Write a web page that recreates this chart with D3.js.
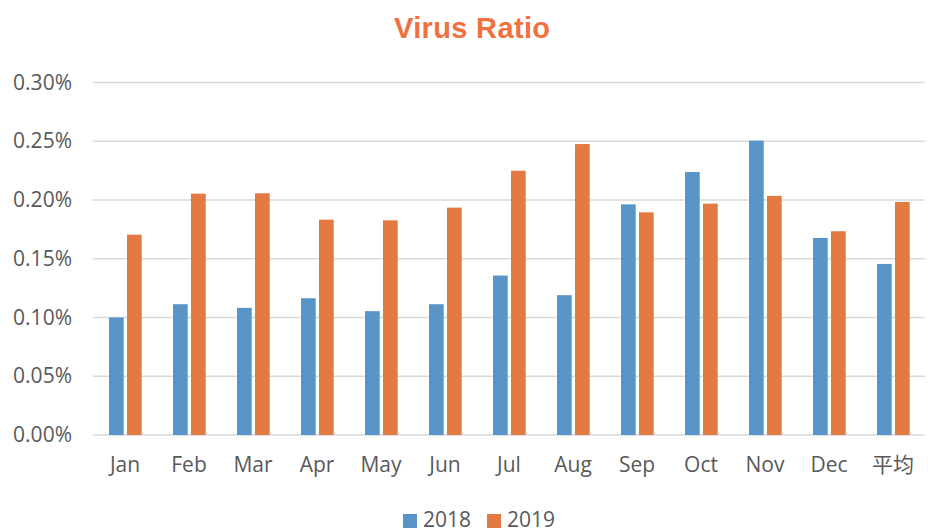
<!DOCTYPE html>
<html>
<head>
<meta charset="utf-8">
<script src="https://cdn.jsdelivr.net/npm/d3@7"></script>
<style>
  body { margin: 0; background: #fff; }
  svg { display: block; }
</style>
</head>
<body>
<div id="plot"></div>
<script>
const months = ["Jan", "Feb", "Mar", "Apr", "May", "Jun", "Jul", "Aug", "Sep", "Oct", "Nov", "Dec", "平均"];
const series = ["2018", "2019"];
const v2018 = [0.100, 0.1113, 0.1082, 0.1164, 0.1054, 0.1113, 0.1357, 0.119, 0.1963, 0.2238, 0.2505, 0.1677, 0.1456];
const v2019 = [0.1705, 0.2054, 0.2057, 0.1833, 0.1827, 0.1935, 0.2249, 0.2476, 0.1895, 0.1969, 0.2035, 0.1734, 0.1983];
const yTicks = [0, 0.05, 0.10, 0.15, 0.20, 0.25, 0.30];
const colors = ["#5894C7", "#E27A42"];

const w = 928;
const h = 528;
const font = "'Open Sans', 'Noto Sans', 'Noto Sans CJK SC', sans-serif";

const svg = d3.select("#plot").append("svg")
  .attr("width", w)
  .attr("height", h);

const xScale = d3.scaleBand().domain(months).range([93, 925]);
const xInner = d3.scaleBand().domain(series).range([16, 48.7]).paddingInner(0.183);
const yScale = d3.scaleLinear().domain([0, 0.30]).range([435, 82.5]);

// gridlines
svg.append("g")
  .selectAll("line")
  .data(yTicks)
  .join("line")
  .attr("x1", 93)
  .attr("x2", 925)
  .attr("y1", d => yScale(d))
  .attr("y2", d => yScale(d))
  .attr("stroke", "#d9d9d9")
  .attr("stroke-width", 1.5);

// y axis labels
const yAxis = d3.axisLeft(yScale)
  .tickValues(yTicks)
  .tickFormat(d => d.toFixed(2) + "%")
  .tickSize(0)
  .tickPadding(0);

svg.append("g")
  .attr("transform", "translate(72,0)")
  .call(yAxis)
  .call(g => g.select(".domain").remove())
  .selectAll("text")
  .attr("font-family", font)
  .attr("font-size", 21)
  .attr("fill", "#595959");

// x axis labels
const xAxis = d3.axisBottom(xScale).tickSize(0).tickPadding(0);
svg.append("g")
  .attr("transform", "translate(0,457)")
  .call(xAxis)
  .call(g => g.select(".domain").remove())
  .selectAll("text")
  .attr("font-family", font)
  .attr("font-size", 21)
  .attr("fill", "#595959");

// bars
const rows = months.map((m, i) => ({ month: m, values: [v2018[i], v2019[i]] }));
const groups = svg.append("g")
  .selectAll("g")
  .data(rows)
  .join("g")
  .attr("transform", d => `translate(${xScale(d.month)},0)`);

groups.selectAll("rect")
  .data(d => d.values.map((v, j) => ({ key: series[j], value: v, j })))
  .join("rect")
  .attr("x", d => xInner(d.key))
  .attr("width", xInner.bandwidth())
  .attr("y", d => yScale(d.value))
  .attr("height", d => yScale(0) - yScale(d.value))
  .attr("fill", d => colors[d.j]);

// title
svg.append("text")
  .attr("x", 394)
  .attr("y", 38)
  .attr("textLength", 156)
  .attr("lengthAdjust", "spacing")
  .attr("font-family", "'Liberation Sans', Arial, sans-serif")
  .attr("font-weight", "bold")
  .attr("font-size", 29)
  .attr("fill", "#F0703F")
  .text("Virus Ratio");

// legend
const legendX = [403, 487];
const legend = svg.append("g")
  .selectAll("g")
  .data(series)
  .join("g")
  .attr("transform", (d, i) => `translate(${legendX[i]},0)`);

legend.append("rect")
  .attr("x", 0)
  .attr("y", 514)
  .attr("width", 14)
  .attr("height", 14)
  .attr("fill", (d, i) => colors[i]);

legend.append("text")
  .attr("x", 20)
  .attr("y", 527)
  .attr("font-family", font)
  .attr("font-size", 21)
  .attr("fill", "#595959")
  .text(d => d);
</script>
</body>
</html>
